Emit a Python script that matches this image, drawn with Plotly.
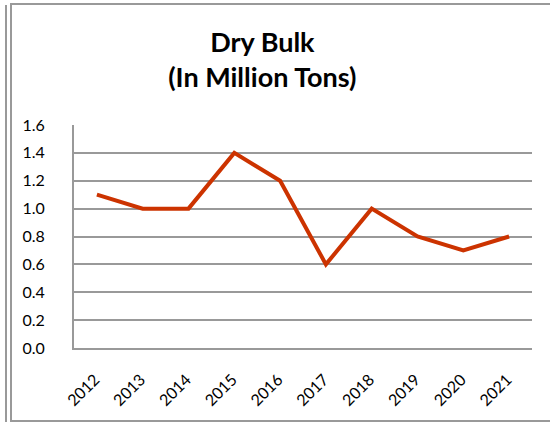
import plotly.graph_objects as go

years = ["2012", "2013", "2014", "2015", "2016", "2017", "2018", "2019", "2020", "2021"]
dry_bulk = [1.1, 1.0, 1.0, 1.4, 1.2, 0.6, 1.0, 0.8, 0.7, 0.8]
y_ticks = [0.0, 0.2, 0.4, 0.6, 0.8, 1.0, 1.2, 1.4, 1.6]

W, H = 550, 422
L, R, T, B = 74, 18, 125, 74
pw, ph = W - L - R, H - T - B


def px(x):
    # pixel x -> paper x
    return (x - L) / pw


def py(y):
    # pixel y (from top) -> paper y
    return (H - B - y) / ph


fig = go.Figure()

fig.add_trace(
    go.Scatter(
        x=years,
        y=dry_bulk,
        mode="lines",
        line=dict(color="#cc3300", width=4),
        showlegend=False,
    )
)

border = "#999999"
fig.update_layout(
    width=W,
    height=H,
    margin=dict(l=L, r=R, t=T, b=B),
    paper_bgcolor="white",
    plot_bgcolor="white",
    font=dict(family="Lato, Open Sans, sans-serif", color="black", size=16),
    title=dict(
        text="<b>Dry Bulk<br>(In Million Tons)</b>",
        font=dict(size=27, color="black"),
        xref="container",
        x=0.477,
        xanchor="center",
        yref="container",
        y=1 - 52 / H,
        yanchor="top",
    ),
    xaxis=dict(
        type="category",
        range=[-0.5, len(years) - 0.5],
        tickangle=-45,
        showgrid=False,
        showline=True,
        linecolor=border,
        linewidth=2,
        ticks="",
        ticklabelstandoff=14,
        ticklabelshift=-2,
        tickfont=dict(size=16),
    ),
    yaxis=dict(
        range=[0, 1.6],
        tickvals=y_ticks,
        tickformat=".1f",
        showgrid=True,
        gridcolor=border,
        gridwidth=2,
        showline=True,
        linecolor=border,
        linewidth=2,
        zeroline=False,
        ticks="",
        ticklabelstandoff=24,
        tickfont=dict(size=16),
    ),
    shapes=[
        dict(
            type="rect", xref="paper", yref="paper",
            x0=px(11), x1=px(560), y0=py(421), y1=py(4),
            line=dict(color=border, width=2),
        ),
        dict(
            type="line", xref="paper", yref="paper",
            x0=px(6), x1=px(6), y0=py(423), y1=py(5),
            line=dict(color=border, width=2),
        ),
    ],
)

fig.write_html(
    "out.html",
    config={"displayModeBar": False},
    post_script="document.body.style.margin='0';document.body.style.overflow='hidden';",
)
